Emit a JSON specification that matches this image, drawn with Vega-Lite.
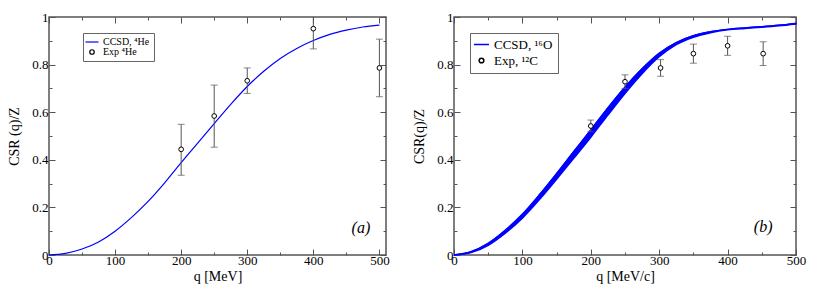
{
  "$schema": "https://vega.github.io/schema/vega-lite/v6.json",
  "background": "white",
  "padding": {"left": 7, "top": 10, "right": 0, "bottom": 0},
  "datasets": {
    "curveA": [
      {"q": 0, "v": 0}, {"q": 25, "v": 0.007}, {"q": 50, "v": 0.025}, {"q": 75, "v": 0.055},
      {"q": 100, "v": 0.1}, {"q": 125, "v": 0.158}, {"q": 150, "v": 0.225}, {"q": 175, "v": 0.303},
      {"q": 200, "v": 0.388}, {"q": 225, "v": 0.47}, {"q": 250, "v": 0.552}, {"q": 275, "v": 0.633},
      {"q": 300, "v": 0.708}, {"q": 325, "v": 0.772}, {"q": 350, "v": 0.826}, {"q": 375, "v": 0.868},
      {"q": 400, "v": 0.901}, {"q": 425, "v": 0.927}, {"q": 450, "v": 0.945}, {"q": 475, "v": 0.958},
      {"q": 500, "v": 0.966}
    ],
    "expA": [
      {"q": 200, "v": 0.444, "lo": 0.335, "hi": 0.549},
      {"q": 250, "v": 0.584, "lo": 0.453, "hi": 0.714},
      {"q": 300, "v": 0.732, "lo": 0.679, "hi": 0.786},
      {"q": 400, "v": 0.951, "lo": 0.866, "hi": 1.04},
      {"q": 500, "v": 0.786, "lo": 0.665, "hi": 0.907}
    ],
    "bandB": [
      {"q": 0, "lo": 0, "hi": 0}, {"q": 25, "lo": 0.01, "hi": 0.014}, {"q": 50, "lo": 0.041, "hi": 0.049},
      {"q": 75, "lo": 0.092, "hi": 0.104}, {"q": 100, "lo": 0.155, "hi": 0.171}, {"q": 125, "lo": 0.233, "hi": 0.253},
      {"q": 150, "lo": 0.318, "hi": 0.342}, {"q": 175, "lo": 0.406, "hi": 0.434}, {"q": 200, "lo": 0.495, "hi": 0.525},
      {"q": 225, "lo": 0.588, "hi": 0.618}, {"q": 250, "lo": 0.679, "hi": 0.705}, {"q": 275, "lo": 0.762, "hi": 0.782},
      {"q": 300, "lo": 0.833, "hi": 0.847}, {"q": 325, "lo": 0.884, "hi": 0.892}, {"q": 350, "lo": 0.915, "hi": 0.921},
      {"q": 375, "lo": 0.934, "hi": 0.938}, {"q": 400, "lo": 0.946, "hi": 0.948}, {"q": 425, "lo": 0.952, "hi": 0.954},
      {"q": 450, "lo": 0.957, "hi": 0.959}, {"q": 475, "lo": 0.963, "hi": 0.965}, {"q": 500, "lo": 0.971, "hi": 0.973}
    ],
    "expB": [
      {"q": 200, "v": 0.542, "lo": 0.518, "hi": 0.567},
      {"q": 250, "v": 0.728, "lo": 0.699, "hi": 0.757},
      {"q": 302, "v": 0.786, "lo": 0.751, "hi": 0.821},
      {"q": 350, "v": 0.846, "lo": 0.806, "hi": 0.886},
      {"q": 400, "v": 0.879, "lo": 0.839, "hi": 0.919},
      {"q": 452, "v": 0.846, "lo": 0.796, "hi": 0.896}
    ],
    "labA": [{"q": 472, "v": 0.112, "t": "(a)"}],
    "labB": [{"q": 452, "v": 0.118, "t": "(b)"}]
  },
  "config": {
    "view": {"stroke": "#555", "strokeWidth": 1.5},
    "concat": {"spacing": 22},
    "axis": {
      "domain": false,
      "grid": false,
      "tickColor": "#555",
      "tickWidth": 1,
      "labelFont": "Liberation Serif",
      "labelFontSize": 13,
      "labelColor": "black",
      "labelFlush": false,
      "labelOverlap": false,
      "titleFont": "Liberation Serif",
      "titleFontSize": 14,
      "titleFontWeight": "normal",
      "titleColor": "black"
    }
  },
  "resolve": {"scale": {"color": "independent", "x": "independent", "y": "independent"}, "legend": {"color": "independent"}},
  "hconcat": [
    {
      "width": 337,
      "height": 238,
      "resolve": {"axis": {"x": "independent", "y": "independent"}},
      "layer": [
        {
          "data": {"name": "curveA"},
          "mark": {"type": "line", "strokeWidth": 1.2, "interpolate": "monotone"},
          "encoding": {
            "x": {"field": "q", "type": "quantitative", "scale": {"domain": [0, 510], "nice": false, "zero": false},
              "axis": {"orient": "bottom", "title": "q [MeV]", "values": [0,50,100,150,200,250,300,350,400,450,500],
                "labelExpr": "datum.value % 100 === 0 ? datum.label : ''",
                "tickSize": {"condition": {"test": "datum.value % 100 === 0", "value": -6}, "value": -3},
                "labelPadding": 5, "titlePadding": -1}},
            "y": {"field": "v", "type": "quantitative", "scale": {"domain": [0, 1], "nice": false},
              "axis": {"orient": "left", "title": "CSR (q)/Z", "values": [0,0.1,0.2,0.3,0.4,0.5,0.6,0.7,0.8,0.9,1],
                "labelExpr": "round(datum.value*10) % 2 === 0 ? format(datum.value, '~g') : ''",
                "tickSize": {"condition": {"test": "round(datum.value*10) % 2 === 0", "value": -6}, "value": -3},
                "labelPadding": 7, "titlePadding": 10}},
            "color": {"datum": "CCSD, ⁴He", "type": "nominal",
              "scale": {"domain": ["CCSD, ⁴He", "Exp ⁴He"], "range": ["blue", "black"]},
              "legend": {"orient": "none", "legendX": 34, "legendY": 16, "title": null,
                "strokeColor": "#666", "fillColor": "white", "padding": 4,
                "labelFont": "Liberation Serif", "labelFontSize": 10, "labelColor": "black",
                "symbolSize": 120, "rowPadding": 0, "labelOffset": 6,
                "encode": {"symbols": {"update": {
                  "shape": {"signal": "datum.index === 0 ? 'stroke' : 'circle'"},
                  "size": {"signal": "datum.index === 0 ? 169 : 20"},
                  "stroke": {"signal": "datum.index === 0 ? 'blue' : 'black'"},
                  "fill": {"value": "transparent"},
                  "strokeWidth": {"value": 1.2}}}}}}
          }
        },
        {
          "data": {"name": "expA"},
          "mark": {"type": "rule", "color": "#555", "strokeWidth": 1, "clip": true},
          "encoding": {
            "x": {"field": "q", "type": "quantitative",
              "axis": {"orient": "top", "title": null, "labels": false, "values": [0,50,100,150,200,250,300,350,400,450,500],
                "tickSize": {"condition": {"test": "datum.value % 100 === 0", "value": -6}, "value": -3}}},
            "y": {"field": "lo", "type": "quantitative",
              "axis": {"orient": "right", "title": null, "labels": false, "values": [0,0.1,0.2,0.3,0.4,0.5,0.6,0.7,0.8,0.9,1],
                "tickSize": {"condition": {"test": "round(datum.value*10) % 2 === 0", "value": -6}, "value": -3}}},
            "y2": {"field": "hi"}
          }
        },
        {
          "data": {"name": "expA"},
          "mark": {"type": "tick", "orient": "horizontal", "color": "#555", "size": 7, "thickness": 1, "clip": true},
          "encoding": {
            "x": {"field": "q", "type": "quantitative", "axis": null},
            "y": {"field": "lo", "type": "quantitative", "axis": null}
          }
        },
        {
          "data": {"name": "expA"},
          "mark": {"type": "tick", "orient": "horizontal", "color": "#555", "size": 7, "thickness": 1, "clip": true},
          "encoding": {
            "x": {"field": "q", "type": "quantitative", "axis": null},
            "y": {"field": "hi", "type": "quantitative", "axis": null}
          }
        },
        {
          "data": {"name": "expA"},
          "mark": {"type": "point", "filled": false, "size": 22, "strokeWidth": 1, "opacity": 1, "fill": "white", "fillOpacity": 1},
          "encoding": {
            "x": {"field": "q", "type": "quantitative", "axis": null},
            "y": {"field": "v", "type": "quantitative", "axis": null},
            "color": {"datum": "Exp ⁴He", "type": "nominal"}
          }
        },
        {
          "data": {"name": "labA"},
          "mark": {"type": "text", "font": "Liberation Serif", "fontStyle": "italic", "fontSize": 16, "color": "black"},
          "encoding": {
            "x": {"field": "q", "type": "quantitative", "axis": null},
            "y": {"field": "v", "type": "quantitative", "axis": null},
            "text": {"field": "t"}
          }
        }
      ]
    },
    {
      "width": 342,
      "height": 238,
      "resolve": {"axis": {"x": "independent", "y": "independent"}},
      "layer": [
        {
          "data": {"name": "bandB"},
          "mark": {"type": "area", "interpolate": "monotone", "color": "blue", "stroke": "blue", "strokeWidth": 1.5, "fillOpacity": 1},
          "encoding": {
            "x": {"field": "q", "type": "quantitative", "scale": {"domain": [0, 500], "nice": false, "zero": false},
              "axis": {"orient": "bottom", "title": "q [MeV/c]", "values": [0,50,100,150,200,250,300,350,400,450,500],
                "labelExpr": "datum.value % 100 === 0 ? datum.label : ''",
                "tickSize": {"condition": {"test": "datum.value % 100 === 0", "value": -6}, "value": -3},
                "labelPadding": 5, "titlePadding": -1}},
            "y": {"field": "lo", "type": "quantitative", "scale": {"domain": [0, 1], "nice": false},
              "axis": {"orient": "left", "title": "CSR(q)/Z", "values": [0,0.1,0.2,0.3,0.4,0.5,0.6,0.7,0.8,0.9,1],
                "labelExpr": "round(datum.value*10) % 2 === 0 ? format(datum.value, '~g') : ''",
                "tickSize": {"condition": {"test": "round(datum.value*10) % 2 === 0", "value": -6}, "value": -3},
                "labelPadding": 7, "titlePadding": 10}},
            "y2": {"field": "hi"}
          }
        },
        {
          "data": {"name": "bandB"},
          "mark": {"type": "line", "strokeWidth": 1.5, "interpolate": "monotone"},
          "encoding": {
            "x": {"field": "q", "type": "quantitative", "axis": null},
            "y": {"field": "hi", "type": "quantitative", "axis": null},
            "color": {"datum": "CCSD, ¹⁶O", "type": "nominal",
              "scale": {"domain": ["CCSD, ¹⁶O", "Exp, ¹²C"], "range": ["blue", "black"]},
              "legend": {"orient": "none", "legendX": 16, "legendY": 16, "title": null,
                "strokeColor": "#666", "fillColor": "white", "padding": 5,
                "labelFont": "Liberation Serif", "labelFontSize": 13, "labelColor": "black",
                "symbolSize": 225, "rowPadding": 2, "labelOffset": 6,
                "encode": {"symbols": {"update": {
                  "shape": {"signal": "datum.index === 0 ? 'stroke' : 'circle'"},
                  "size": {"signal": "datum.index === 0 ? 225 : 22"},
                  "stroke": {"signal": "datum.index === 0 ? 'blue' : 'black'"},
                  "fill": {"value": "transparent"},
                  "strokeWidth": {"value": 1.5}}}}}}
          }
        },
        {
          "data": {"name": "expB"},
          "mark": {"type": "rule", "color": "#555", "strokeWidth": 1, "clip": true},
          "encoding": {
            "x": {"field": "q", "type": "quantitative",
              "axis": {"orient": "top", "title": null, "labels": false, "values": [0,50,100,150,200,250,300,350,400,450,500],
                "tickSize": {"condition": {"test": "datum.value % 100 === 0", "value": -6}, "value": -3}}},
            "y": {"field": "lo", "type": "quantitative",
              "axis": {"orient": "right", "title": null, "labels": false, "values": [0,0.1,0.2,0.3,0.4,0.5,0.6,0.7,0.8,0.9,1],
                "tickSize": {"condition": {"test": "round(datum.value*10) % 2 === 0", "value": -6}, "value": -3}}},
            "y2": {"field": "hi"}
          }
        },
        {
          "data": {"name": "expB"},
          "mark": {"type": "tick", "orient": "horizontal", "color": "#555", "size": 7, "thickness": 1, "clip": true},
          "encoding": {
            "x": {"field": "q", "type": "quantitative", "axis": null},
            "y": {"field": "lo", "type": "quantitative", "axis": null}
          }
        },
        {
          "data": {"name": "expB"},
          "mark": {"type": "tick", "orient": "horizontal", "color": "#555", "size": 7, "thickness": 1, "clip": true},
          "encoding": {
            "x": {"field": "q", "type": "quantitative", "axis": null},
            "y": {"field": "hi", "type": "quantitative", "axis": null}
          }
        },
        {
          "data": {"name": "expB"},
          "mark": {"type": "point", "filled": false, "size": 22, "strokeWidth": 1, "opacity": 1, "fill": "white", "fillOpacity": 1},
          "encoding": {
            "x": {"field": "q", "type": "quantitative", "axis": null},
            "y": {"field": "v", "type": "quantitative", "axis": null},
            "color": {"datum": "Exp, ¹²C", "type": "nominal"}
          }
        },
        {
          "data": {"name": "labB"},
          "mark": {"type": "text", "font": "Liberation Serif", "fontStyle": "italic", "fontSize": 16, "color": "black"},
          "encoding": {
            "x": {"field": "q", "type": "quantitative", "axis": null},
            "y": {"field": "v", "type": "quantitative", "axis": null},
            "text": {"field": "t"}
          }
        }
      ]
    }
  ]
}
